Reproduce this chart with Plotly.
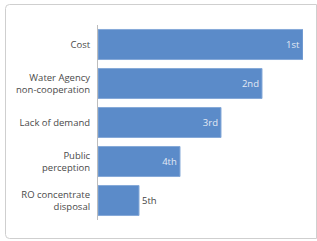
import plotly.graph_objects as go

categories = ["Cost", "Water Agency<br>non-cooperation", "Lack of demand", "Public<br>perception", "RO concentrate<br>disposal"]
values = [5, 4, 3, 2, 1]
rank_labels = ["1st", "2nd", "3rd", "4th", "5th"]
label_positions = ["inside", "inside", "inside", "inside", "outside"]

W, H = 317, 241
L, R, T, B = 98, 303, 25, 220

def px(x):
    return (x - L) / (R - L)

def py(y):
    return (B - y) / (B - T)

fig = go.Figure(go.Bar(
    y=categories, x=values, orientation="h",
    text=rank_labels, textposition=label_positions,
    insidetextanchor="end",
    insidetextfont=dict(color="#e3eaf5", size=9.5, family="Open Sans"),
    outsidetextfont=dict(color="#444444", size=9.5, family="Open Sans"),
    marker=dict(color="#5b8bc9", line=dict(color="#86a9d8", width=1)),
    cliponaxis=False,
    width=0.77,
))

x0, x1, y0, y1 = px(5.5), px(316.5), py(238.5), py(4.5)
rx, ry = 4 / (R - L), 4 / (B - T)
path = (f"M {x0+rx} {y0} L {x1} {y0} L {x1} {y1} L {x0+rx} {y1} "
        f"Q {x0} {y1} {x0} {y1-ry} L {x0} {y0+ry} Q {x0} {y0} {x0+rx} {y0} Z")
fig.add_shape(type="path", xref="paper", yref="paper", path=path,
              line=dict(color="#cfcfcf", width=1), layer="below")

fig.update_layout(
    width=W, height=H,
    margin=dict(l=L, r=W - R, t=T, b=H - B, autoexpand=False),
    paper_bgcolor="white", plot_bgcolor="white",
    showlegend=False,
    bargap=0.23,
    font=dict(family="Open Sans", size=9.5, color="#444444"),
    xaxis=dict(range=[0, 5], visible=False, showgrid=False, zeroline=False, automargin=False),
    yaxis=dict(autorange="reversed", showline=True, linecolor="#bdbdbd", linewidth=1,
               ticks="", showgrid=False, ticklabelstandoff=5, automargin=False,
               tickfont=dict(size=9.5, color="#4a4a4a", family="Open Sans")),
)

fig.write_html("out.html", config={"displayModeBar": False},
               post_script="document.body.style.margin='0';document.body.style.overflow='hidden';")
